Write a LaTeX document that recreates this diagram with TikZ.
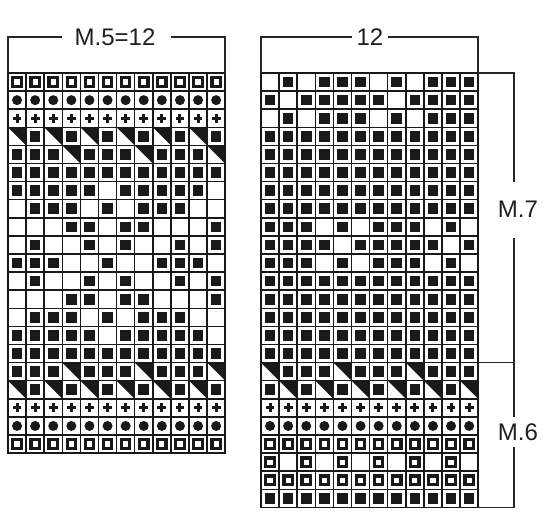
\documentclass[tikz,border=0pt]{standalone}
\usepackage{fontspec}
\setmainfont{Liberation Sans}
\tikzset{
  gridline/.style={line width=1.5pt, draw=black!90},
  brack/.style={line width=1.5pt, draw=black!85},
  lbl/.style={inner sep=0pt, font=\fontsize{24}{28}\selectfont, text=black!88}
}
\newcommand\ksymS{\fill[black!90] (-5.3,-5.3) rectangle (5.3,5.3);}
\newcommand\ksymH{\draw[black!90,line width=3.2pt] (-4.2,-4.2) rectangle (4.2,4.2);}
\newcommand\ksymD{\fill[black!90] (0,0) circle (5);}
\newcommand\ksymP{\fill[black!90] (-4.4,-1.5) rectangle (4.4,1.5); \fill[black!90] (-1.5,-4.4) rectangle (1.5,4.4);}
\newcommand\ksymT{\fill[black!90] (-9.05,-9.05) -- (9.05,-9.05) -- (9.05,9.05) -- cycle;}
\newcommand\ksymE{}
\newcommand\kcell{18.1}
% #1 x0, #2 rows count, #3 list of rows
\newcommand\kchart[3]{%
  \foreach \row [count=\r] in {#3} {
    \foreach \s [count=\c] in \row {
      \begin{scope}[shift={({#1+(\c-0.5)*\kcell},{73+(\r-0.5)*\kcell})}]
        \csname ksym\s\endcsname
      \end{scope}
    }
  }
  \foreach \i in {0,...,12} {
    \draw[gridline] ({#1+\i*\kcell},73) -- ({#1+\i*\kcell},{73+#2*\kcell});
  }
  \foreach \j in {0,...,#2} {
    \draw[gridline] ({#1-0.75},{73+\j*\kcell}) -- ({#1+12*\kcell+0.75},{73+\j*\kcell});
  }
}
\begin{document}
\begin{tikzpicture}[x=1pt,y=-1pt]
\useasboundingbox (0,0) rectangle (550,532);
\fill[white] (0,0) rectangle (550,532);

% Left chart M.5
\kchart{8}{21}{
 {H,H,H,H,H,H,H,H,H,H,H,H},
 {D,D,D,D,D,D,D,D,D,D,D,D},
 {P,P,P,P,P,P,P,P,P,P,P,P},
 {T,S,T,S,T,S,T,S,T,S,T,S},
 {S,S,S,T,S,S,S,T,S,S,S,T},
 {S,S,S,S,S,S,S,S,S,S,S,S},
 {S,S,S,S,S,E,S,S,S,S,S,E},
 {E,S,S,S,E,S,E,S,S,S,E,E},
 {E,E,E,S,S,E,S,S,E,E,E,S},
 {E,S,E,E,S,E,S,E,E,S,E,S},
 {S,S,S,E,E,S,E,E,S,S,S,E},
 {E,S,E,E,S,E,S,E,E,S,E,S},
 {E,E,E,S,S,E,S,S,E,E,E,S},
 {E,S,S,S,E,S,E,S,S,S,E,E},
 {S,S,S,S,S,E,S,S,S,S,S,E},
 {S,S,S,S,S,S,S,S,S,S,S,S},
 {S,S,S,T,S,S,S,T,S,S,S,T},
 {T,S,T,S,T,S,T,S,T,S,T,S},
 {P,P,P,P,P,P,P,P,P,P,P,P},
 {D,D,D,D,D,D,D,D,D,D,D,D},
 {H,H,H,H,H,H,H,H,H,H,H,H}}

% Right chart M.7 / M.6
\kchart{261}{24}{
 {E,S,E,S,S,S,E,S,E,S,S,S},
 {S,E,S,S,S,S,S,E,S,S,S,S},
 {E,S,E,S,S,S,E,S,E,S,S,S},
 {S,S,S,S,S,S,S,S,S,S,S,S},
 {S,S,S,S,S,S,S,S,S,S,S,S},
 {S,S,S,S,S,S,S,S,S,S,S,S},
 {S,S,S,S,S,S,S,S,S,S,S,S},
 {S,S,S,S,S,S,S,S,S,S,S,S},
 {S,S,S,E,S,E,S,S,S,E,S,E},
 {S,S,S,S,E,S,S,S,S,S,E,S},
 {S,S,S,E,S,E,S,S,S,E,S,E},
 {S,S,S,S,S,S,S,S,S,S,S,S},
 {S,S,S,S,S,S,S,S,S,S,S,S},
 {S,S,S,S,S,S,S,S,S,S,S,S},
 {S,S,S,S,S,S,S,S,S,S,S,S},
 {S,S,S,S,S,S,S,S,S,S,S,S},
 {T,S,S,S,T,S,S,S,T,S,S,S},
 {S,T,S,T,S,T,S,T,S,T,S,T},
 {P,P,P,P,P,P,P,P,P,P,P,P},
 {D,D,D,D,D,D,D,D,D,D,D,D},
 {H,H,H,H,H,H,H,H,H,H,H,H},
 {H,E,H,E,H,E,H,E,H,E,H,E},
 {H,H,H,H,H,H,H,H,H,H,H,H},
 {S,S,S,S,S,S,S,S,S,S,S,S}}

% headers
\node[lbl] (m5) at (115,37.5) {M.5=12};
\draw[brack] (8,73) -- (8,37) -- (62,37);
\draw[brack] (171,37) -- (225.2,37) -- (225.2,73);
\node[lbl] (w12) at (370,37.5) {12};
\draw[brack] (261,73) -- (261,37) -- (352,37);
\draw[brack] (388,37) -- (478.2,37) -- (478.2,73);

% right bracket
\coordinate (btop) at (478.2,73);
\coordinate (bmid) at (478.2,362.6);
\coordinate (bbot) at (478.2,507.4);
\node[lbl] (m7) at (518,209) {M.7};
\node[lbl] (m6) at (518,432) {M.6};
\draw[brack] (btop) -- (514,73) -- (514,182);
\draw[brack] (514,238) -- (514,362.6) -- (bmid);
\draw[brack] (bmid) -- (514,362.6);
\draw[brack] (514,362.6) -- (514,417);
\draw[brack] (514,447) -- (514,507.4) -- (bbot);
\end{tikzpicture}
\end{document}
